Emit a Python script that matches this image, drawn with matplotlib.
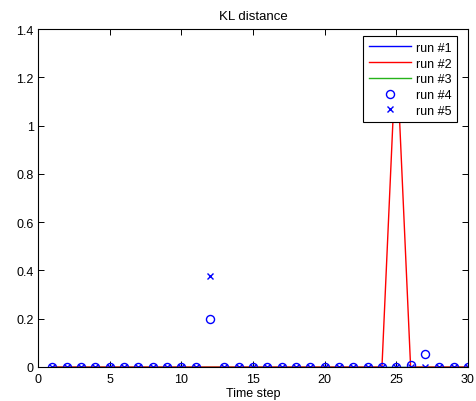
import numpy as np
import matplotlib
matplotlib.use("Agg")
from matplotlib import pyplot as plt

steps = list(range(1, 31))

run1 = [0.0] * 30
run2 = [0.0] * 30
run2[24] = 1.33
run3 = [0.0] * 30
run4 = [0.0] * 30
run4[11] = 0.197
run4[25] = 0.008
run4[26] = 0.055
run5 = [0.0] * 30
run5[11] = 0.375

plt.rcParams['font.family'] = ['Liberation Sans', 'DejaVu Sans']
plt.rcParams['font.size'] = 9

fig = plt.figure(figsize=(4.77, 4.02), dpi=100)
ax = fig.add_axes([0.0797, 0.0846, 0.9013, 0.8404])

ax.plot(steps, run1, color=(0, 0, 1), lw=1.0, label='run #1')
ax.plot(steps, run2, color=(1, 0, 0), lw=1.0, label='run #2')
ax.plot(steps, run3, color=(0.15, 0.7, 0.1), lw=1.0, label='run #3')
ax.plot(steps, run4, 'o', color=(0, 0, 1), mfc='none', ms=5.8, mew=1.0,
        label='run #4')
ax.plot(steps, run5, 'x', color=(0, 0, 1), ms=4.5, mew=1.0, label='run #5')

ax.set_xlim(0, 30)
ax.set_ylim(0, 1.4)
ax.set_xticks(np.arange(0, 31, 5))
ax.set_yticks(np.arange(0, 1.41, 0.2))
ax.set_yticklabels(['0', '0.2', '0.4', '0.6', '0.8', '1', '1.2', '1.4'])
ax.tick_params(direction='in', top=True, right=True, length=4, width=0.7)
ax.tick_params(axis='x', pad=4)
ax.tick_params(axis='y', pad=3)
for s in ax.spines.values():
    s.set_linewidth(0.8)

ax.set_title('KL distance', fontsize=9.5, pad=7)
ax.set_xlabel('Time step', labelpad=2)

leg = ax.legend(loc='upper right', bbox_to_anchor=(0.974, 0.979),
                borderaxespad=0, fancybox=False, framealpha=1,
                edgecolor='black', borderpad=0.45, labelspacing=0.3,
                handlelength=3.4, handletextpad=0.35)
leg.get_frame().set_linewidth(0.8)

fig.savefig('out.png', dpi=100)
